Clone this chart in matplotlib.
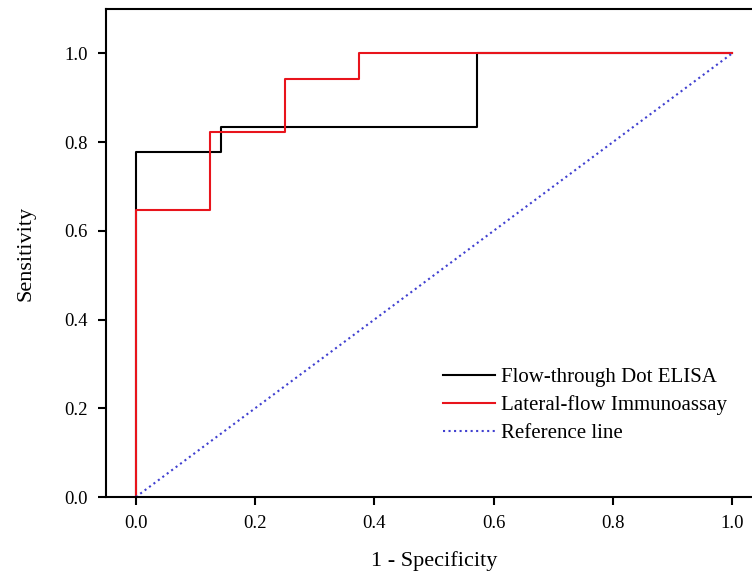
import matplotlib
matplotlib.use('Agg')
import matplotlib.pyplot as plt

# ROC curve data (1 - specificity, sensitivity)
elisa_fpr = [0.0, 0.0, 1/7, 1/7, 4/7, 4/7, 1.0]
elisa_tpr = [0.0, 14/18, 14/18, 15/18, 15/18, 1.0, 1.0]

lfia_fpr = [0.0, 0.0, 0.125, 0.125, 0.25, 0.25, 0.375, 0.375, 1.0]
lfia_tpr = [0.0, 11/17, 11/17, 14/17, 14/17, 16/17, 16/17, 1.0, 1.0]

ref_x = [0.0, 1.0]
ref_y = [0.0, 1.0]

plt.rcParams['font.family'] = ['Liberation Serif', 'DejaVu Serif']

fig = plt.figure(figsize=(7.52, 5.76), dpi=100)
# right spine sits just outside the picture, as in the original
ax = fig.add_axes([106/752, 1 - 497/576, (762 - 106)/752, (497 - 9)/576])

ax.plot(elisa_fpr, elisa_tpr, color='black', lw=1.5, label='Flow-through Dot ELISA')
ax.plot(lfia_fpr, lfia_tpr, color='#e8141c', lw=1.5, label='Lateral-flow Immunoassay')
ax.plot(ref_x, ref_y, color='#4040d0', lw=1.5, ls=':', label='Reference line')

ax.set_xlim(-0.05, 1.05)
ax.set_ylim(0, 1.1)
ax.set_xticks([0.0, 0.2, 0.4, 0.6, 0.8, 1.0])
ax.set_yticks([0.0, 0.2, 0.4, 0.6, 0.8, 1.0])
ax.xaxis.set_major_formatter(matplotlib.ticker.FormatStrFormatter('%.1f'))
ax.yaxis.set_major_formatter(matplotlib.ticker.FormatStrFormatter('%.1f'))
ax.tick_params(direction='out', length=6, width=1.5, labelsize=13.5, pad=7)
for s in ax.spines.values():
    s.set_linewidth(1.5)

ax.set_xlabel('1 - Specificity', fontsize=16, labelpad=14)
ax.set_ylabel('Sensitivity', fontsize=16, labelpad=21)

ax.legend(loc='lower left', bbox_to_anchor=(0.485, 0.072), frameon=False,
          fontsize=15, handlelength=2.5, handletextpad=0.3, labelspacing=0.4)

fig.savefig('out.png', dpi=100)
